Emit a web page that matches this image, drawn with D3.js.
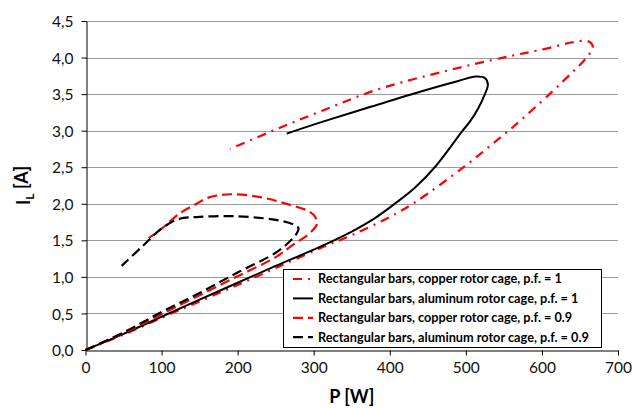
<!DOCTYPE html>
<html>
<head>
<meta charset="utf-8">
<script src="https://cdn.jsdelivr.net/npm/d3@7/dist/d3.min.js"></script>
<style>
  html, body { margin: 0; padding: 0; background: #fff; }
  svg { display: block; }
  text { font-family: Lato, "Open Sans", "Noto Sans", sans-serif; }
</style>
</head>
<body>
<svg id="chart" width="644" height="408"></svg>
<script>
// Load-current characteristics I_L(P): each curve is a loop of [P (W), I_L (A)] points
const copperPf1 = [
  [0, 0], [50, 0.21], [100, 0.44], [150, 0.665], [200, 0.89], [250, 1.12], [308, 1.39],
  [350, 1.57], [400, 1.82], [433, 2.02], [497, 2.5], [541, 2.87], [562, 3.05], [611, 3.51],
  [640, 3.8], [657, 3.98], [667, 4.14], [663, 4.21], [654, 4.23], [596, 4.1], [549, 4.0],
  [475, 3.82], [383, 3.56], [313, 3.28], [251, 3.02], [190, 2.75]
];
const aluminumPf1 = [
  [0, 0], [50, 0.22], [100, 0.455], [150, 0.69], [200, 0.92], [250, 1.15], [308, 1.41],
  [350, 1.62], [380, 1.8], [409, 2.02], [433, 2.22], [460, 2.51], [495, 2.99], [505, 3.12],
  [516, 3.3], [525, 3.5], [529, 3.63], [525, 3.72], [513, 3.74], [490, 3.68], [442, 3.54],
  [376, 3.33], [311, 3.12], [264.5, 2.96]
];
const copperPf09 = [
  [0, 0], [50, 0.23], [100, 0.49], [150, 0.75], [200, 1.01], [250, 1.27], [273, 1.44],
  [295, 1.6], [304, 1.72], [302, 1.82], [293, 1.9], [264, 2.0], [230, 2.09], [190, 2.13],
  [160, 2.08], [146, 2.0], [124, 1.87], [100, 1.66], [83, 1.53]
];
const aluminumPf09 = [
  [0, 0], [50, 0.24], [100, 0.52], [150, 0.78], [200, 1.06], [250, 1.33], [269, 1.49],
  [278, 1.6], [280, 1.665], [275, 1.71], [250, 1.78], [194, 1.83], [150, 1.82], [122, 1.79],
  [100, 1.66], [75, 1.42], [47.5, 1.15]
];

const seriesNames = [
  "Rectangular bars, copper rotor cage, p.f. = 1",
  "Rectangular bars, aluminum rotor cage, p.f. = 1",
  "Rectangular bars, copper rotor cage, p.f. = 0.9",
  "Rectangular bars, aluminum rotor cage, p.f. = 0.9"
];
const xTicks = [0, 100, 200, 300, 400, 500, 600, 700];
const yTicks = [0, 0.5, 1, 1.5, 2, 2.5, 3, 3.5, 4, 4.5];
const yTickLabels = ["0,0", "0,5", "1,0", "1,5", "2,0", "2,5", "3,0", "3,5", "4,0", "4,5"];

const series = [
  { name: seriesNames[0], data: copperPf1, color: "#ff0000", dash: "9,6,2,6", width: 2.2 },
  { name: seriesNames[1], data: aluminumPf1, color: "#000000", dash: null, width: 2 },
  { name: seriesNames[2], data: copperPf09, color: "#ff0000", dash: "10,5", width: 2.2 },
  { name: seriesNames[3], data: aluminumPf09, color: "#000000", dash: "10,5", width: 2.2 }
];

const svg = d3.select("#chart");
const x = d3.scaleLinear().domain([0, 700]).range([85.5, 618]);
const y = d3.scaleLinear().domain([0, 4.5]).range([350, 21]);

// horizontal gridlines
svg.append("g").selectAll("line")
  .data(yTicks.filter(d => d > 0))
  .join("line")
  .attr("x1", x(0)).attr("x2", x(700))
  .attr("y1", d => Math.round(y(d)) + 0.5).attr("y2", d => Math.round(y(d)) + 0.5)
  .attr("stroke", "#9a9a9a").attr("stroke-width", 1);

// axes
const xAxis = svg.append("g")
  .attr("transform", `translate(0,${Math.round(y(0)) + 0.5})`)
  .call(d3.axisBottom(x).tickValues(xTicks).tickSize(5).tickSizeOuter(0).tickPadding(6));
const yAxis = svg.append("g")
  .attr("transform", `translate(${Math.round(x(0)) + 0.5},0)`)
  .call(d3.axisLeft(y).tickValues(yTicks).tickSize(5).tickSizeOuter(0).tickPadding(8)
    .tickFormat((d, i) => yTickLabels[i]));
[xAxis, yAxis].forEach(g => {
  g.select(".domain").attr("stroke", "#000");
  g.selectAll(".tick line").attr("stroke", "#000");
  g.selectAll(".tick text").attr("fill", "#111")
    .style("font-family", 'Lato, sans-serif').style("font-size", "15.5px");
});
yAxis.selectAll(".tick text").attr("dy", "0.36em");

// curves
const line = d3.line()
  .x(d => x(d[0])).y(d => y(d[1]))
  .curve(d3.curveCatmullRom.alpha(0.5));
svg.append("g").selectAll("path")
  .data(series)
  .join("path")
  .attr("d", d => line(d.data))
  .attr("fill", "none")
  .attr("stroke", d => d.color)
  .attr("stroke-width", d => d.width)
  .attr("stroke-dasharray", d => d.dash)
  .attr("stroke-linejoin", "round");

// axis titles
svg.append("text")
  .attr("x", (x(0) + x(700)) / 2).attr("y", 403)
  .attr("text-anchor", "middle")
  .style("font-weight", "bold").style("font-size", "18px")
  .text("P [W]");
const yTitle = svg.append("text")
  .attr("transform", `translate(30,${(y(0) + y(4.5)) / 2}) rotate(-90)`)
  .attr("text-anchor", "middle")
  .style("font-weight", "bold").style("font-size", "18px");
yTitle.append("tspan").text("I");
yTitle.append("tspan").attr("dy", "0.3em").style("font-size", "12px").text("L");
yTitle.append("tspan").attr("dy", "-0.3em").text(" [A]");

// legend
const lg = svg.append("g").attr("transform", "translate(283,269)");
lg.append("rect")
  .attr("x", 0.5).attr("y", 0.5).attr("width", 318).attr("height", 78)
  .attr("fill", "#fff").attr("stroke", "#000").attr("stroke-width", 1);
const items = lg.selectAll("g.item")
  .data(series)
  .join("g")
  .attr("class", "item")
  .attr("transform", (d, i) => `translate(0,${10 + i * 19.4})`);
items.append("line")
  .attr("x1", 10).attr("x2", 30).attr("y1", 0).attr("y2", 0)
  .attr("stroke", d => d.color)
  .attr("stroke-width", d => d.width)
  .attr("stroke-dasharray", d => d.dash);
const labels = items.append("text")
  .attr("x", 35).attr("y", 0).attr("dy", "0.35em")
  .style("font-weight", "bold").style("font-size", "12px")
  .text(d => d.name);
// fit the legend font so the first entry spans its row
const w0 = labels.nodes()[0].getComputedTextLength();
const fs = 12 * 244 / w0;
labels.style("font-size", fs.toFixed(2) + "px");
</script>
</body>
</html>
